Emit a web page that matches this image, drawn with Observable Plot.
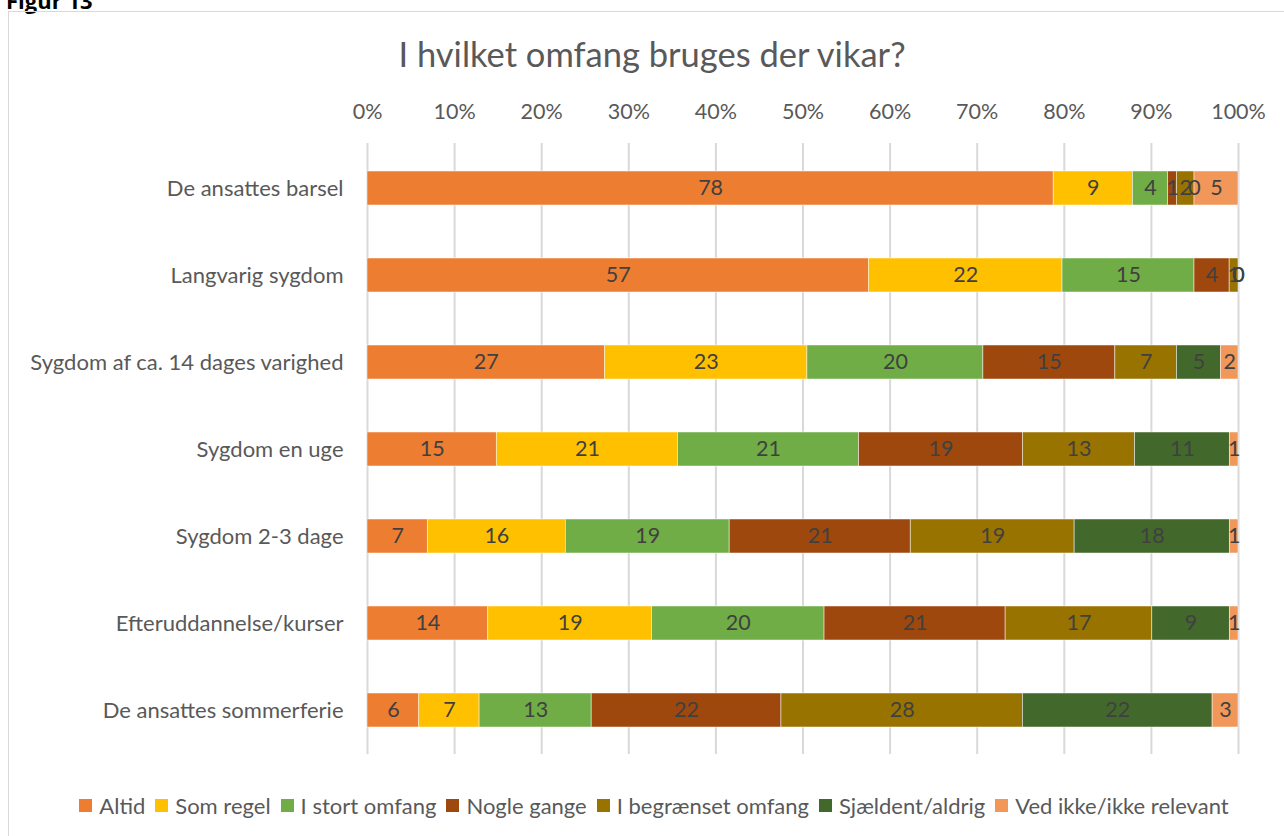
<!DOCTYPE html>
<html>
<head>
<meta charset="utf-8">
<script src="https://cdn.jsdelivr.net/npm/d3@7"></script>
<script src="https://cdn.jsdelivr.net/npm/@observablehq/plot@0.6"></script>
<style>
  html, body { margin: 0; padding: 0; background: #fff; }
  body { width: 1284px; height: 836px; position: relative; overflow: hidden; font-family: Lato, "Open Sans", sans-serif; }
  #fig { position: absolute; left: 6px; top: -15px; font-weight: bold; font-size: 22px; color: #000; font-family: "Open Sans", sans-serif; }
  #frame { position: absolute; left: 8px; top: 11px; width: 1300px; height: 900px; border: 1.5px solid #d9d9d9; box-sizing: border-box; }
  #title { position: absolute; left: 0; width: 1304px; top: 33px; text-align: center; font-size: 34.5px; color: #595959; }
  #chart { position: absolute; left: 0; top: 80px; }
  #legend { position: absolute; left: 0; width: 1318px; top: 792px; display: flex; justify-content: center; font-size: 22px; color: #595959; white-space: nowrap; }
  #legend .item { display: flex; align-items: center; margin-right: 10px; }
  #legend .sw { width: 13px; height: 13px; margin-right: 7px; }
</style>
</head>
<body>
<div id="fig">Figur 13</div>
<div id="frame"></div>
<div id="title">I hvilket omfang bruges der vikar?</div>
<div id="chart"></div>
<div id="legend"></div>
<script>
const categories = [
  "De ansattes barsel",
  "Langvarig sygdom",
  "Sygdom af ca. 14 dages varighed",
  "Sygdom en uge",
  "Sygdom 2-3 dage",
  "Efteruddannelse/kurser",
  "De ansattes sommerferie"
];
const series = ["Altid", "Som regel", "I stort omfang", "Nogle gange", "I begrænset omfang", "Sjældent/aldrig", "Ved ikke/ikke relevant"];
const colors = ["#ED7D31", "#FFC000", "#70AD47", "#9E480E", "#997300", "#43682B", "#F1975A"];
// values per series, in category order
const altid       = [78, 57, 27, 15, 7, 14, 6];
const somRegel    = [9, 22, 23, 21, 16, 19, 7];
const iStort      = [4, 15, 20, 21, 19, 20, 13];
const nogleGange  = [1, 4, 15, 19, 21, 21, 22];
const iBegraenset = [2, 1, 7, 13, 19, 17, 28];
const sjaeldent   = [0, 0, 5, 11, 18, 9, 22];
const vedIkke     = [5, 0, 2, 1, 1, 1, 3];
const tickValues = [0, 0.1, 0.2, 0.3, 0.4, 0.5, 0.6, 0.7, 0.8, 0.9, 1];

const seriesValues = [altid, somRegel, iStort, nogleGange, iBegraenset, sjaeldent, vedIkke];
const data = [];
categories.forEach((c, i) => {
  series.forEach((s, j) => {
    data.push({category: c, series: s, value: seriesValues[j][i]});
  });
});

const stackOpts = {x: "value", y: "category", z: "series", offset: "normalize"};

const chart = Plot.plot({
  width: 1284,
  height: 690,
  marginTop: 63,
  marginBottom: 16,
  marginLeft: 367,
  marginRight: 46,
  style: {fontFamily: "Lato, 'Open Sans', sans-serif", fontSize: "22px", background: "transparent"},
  x: {domain: [0, 1]},
  y: {domain: categories, paddingInner: 0.61, paddingOuter: 0.305},
  color: {domain: series, range: colors},
  marks: [
    Plot.ruleX(tickValues, {stroke: "#d9d9d9", strokeWidth: 2}),
    Plot.barX(data, Plot.stackX({...stackOpts, fill: "series", stroke: "#ffffff", strokeWidth: 0.8, strokeOpacity: 0.6})),
    Plot.text(data, Plot.stackX({...stackOpts, text: d => String(d.value), fill: "#404040", fontSize: 21.5})),
    Plot.axisX({anchor: "top", ticks: tickValues, tickFormat: d3.format(".0%"), tickSize: 0, tickPadding: 25, color: "#595959", label: null, fontSize: 21.5}),
    Plot.axisY({tickSize: 0, tickPadding: 24, color: "#595959", label: null, fontSize: 22})
  ]
});
document.getElementById("chart").appendChild(chart);

const legend = document.getElementById("legend");
series.forEach((s, j) => {
  const item = document.createElement("div");
  item.className = "item";
  const sw = document.createElement("div");
  sw.className = "sw";
  sw.style.background = colors[j];
  const t = document.createElement("span");
  t.textContent = s;
  item.appendChild(sw);
  item.appendChild(t);
  legend.appendChild(item);
});
</script>
</body>
</html>
